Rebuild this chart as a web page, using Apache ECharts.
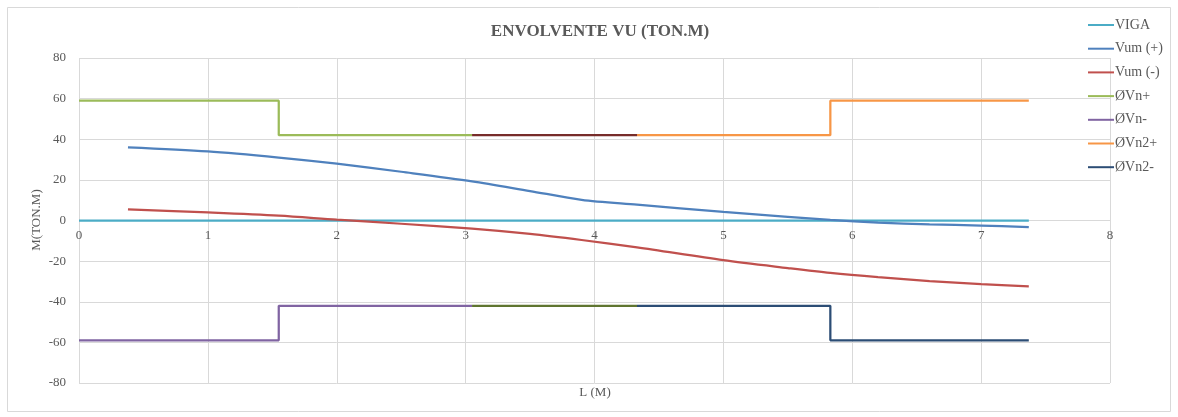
<!DOCTYPE html>
<html>
<head>
<meta charset="utf-8">
<style>
  html, body { margin: 0; padding: 0; background: #ffffff; }
  #chart { width: 1178px; height: 417px; }
</style>
<script src="https://cdn.jsdelivr.net/npm/echarts@6/dist/echarts.min.js"></script>
</head>
<body>
<div id="chart"></div>
<script>
// Shear envelope along the beam: L (m) vs Vu (ton.m)
const legendNames = ['VIGA', 'Vum (+)', 'Vum (-)', 'ØVn+', 'ØVn-', 'ØVn2+', 'ØVn2-'];
const xTicks = { min: 0, max: 8, interval: 1 };
const yTicks = { min: -80, max: 80, interval: 20 };

// beam reference line
const viga = [[0, 0], [7.37, 0]];

// factored shear, positive and negative envelopes
const vumPos = [[0.38, 36], [1.0, 34], [1.55, 31], [2.0, 28], [2.5, 24], [3.05, 19.3],
  [3.5, 14.5], [3.9, 10.2], [4.33, 7.8], [5.0, 4.2], [5.5, 1.8], [5.83, 0.3],
  [6.2, -1.0], [6.6, -1.9], [7.0, -2.5], [7.37, -3.3]];
const vumNeg = [[0.38, 5.5], [1.0, 4.0], [1.55, 2.4], [2.0, 0.4], [2.5, -1.6], [3.05, -4.0],
  [3.5, -6.6], [3.9, -9.6], [4.33, -13.2], [5.0, -19.5], [5.5, -23.4], [5.83, -25.8],
  [6.2, -27.9], [6.6, -29.8], [7.0, -31.3], [7.37, -32.4]];

// design shear capacity, by stirrup zone
const phiVnPos = [[0, 59], [1.55, 59], [1.55, 42], [3.05, 42]];
const phiVnPosMid = [[3.05, 42], [4.33, 42]];
const phiVn2Pos = [[4.33, 42], [5.83, 42], [5.83, 59], [7.37, 59]];
const phiVnNeg = [[0, -59], [1.55, -59], [1.55, -42], [3.05, -42]];
const phiVnNegMid = [[3.05, -42], [4.33, -42]];
const phiVn2Neg = [[4.33, -42], [5.83, -42], [5.83, -59], [7.37, -59]];

const textGray = '#595959';
const serif = '"Liberation Serif", "Times New Roman", serif';

// plot area box
const gridBox = { left: 79, right: 68, top: 58, bottom: 34 };
const chartH = 417;
// the x axis crosses the vertical axis at zero
const plotH = chartH - gridBox.top - gridBox.bottom;
const zeroFromBottom = plotH * (0 - yTicks.min) / (yTicks.max - yTicks.min);

function line(name, data, color, smooth) {
  return {
    name: name, type: 'line', data: data, smooth: smooth ? 0.3 : false,
    symbol: 'none', lineStyle: { color: color, width: 2.25 }, itemStyle: { color: color },
    emphasis: { disabled: true }, animation: false
  };
}

const chart = echarts.init(document.getElementById('chart'), null, { renderer: 'canvas' });
chart.setOption({
  backgroundColor: '#ffffff',
  animation: false,
  title: {
    text: 'ENVOLVENTE VU (TON.M)',
    left: 595, top: 18, textAlign: 'center',
    textStyle: { fontFamily: serif, fontSize: 17, fontWeight: 'bold', color: textGray }
  },
  legend: {
    data: legendNames,
    orient: 'vertical', left: 1083, top: 13,
    icon: 'rect', itemWidth: 26, itemHeight: 2, itemGap: 9.7,
    textStyle: { fontFamily: serif, fontSize: 14, color: textGray, padding: [0, 0, 0, -4] }
  },
  grid: Object.assign({ containLabel: false }, gridBox),
  xAxis: {
    type: 'value', min: xTicks.min, max: xTicks.max, interval: xTicks.interval,
    position: 'bottom', offset: -zeroFromBottom,
    axisLine: { show: false, onZero: false },
    axisTick: { show: false },
    axisLabel: { fontFamily: serif, fontSize: 13, color: textGray, margin: 9 },
    splitLine: { show: true, lineStyle: { color: '#d9d9d9', width: 1 } }
  },
  yAxis: {
    type: 'value', min: yTicks.min, max: yTicks.max, interval: yTicks.interval,
    axisLine: { show: false, onZero: false }, axisTick: { show: false },
    axisLabel: { fontFamily: serif, fontSize: 13, color: textGray, margin: 13 },
    splitLine: { show: true, lineStyle: { color: '#d9d9d9', width: 1 } }
  },
  graphic: [
    { type: 'rect', shape: { x: 7.5, y: 7.5, width: 1163, height: 404 },
      style: { fill: 'none', stroke: '#d9d9d9', lineWidth: 1 }, silent: true },
    { type: 'text', x: 37, y: 220, rotation: Math.PI / 2,
      style: { text: 'M(TON.M)', fill: textGray, font: '13px ' + serif,
        textAlign: 'center', textVerticalAlign: 'middle' } },
    { type: 'text', x: 595, y: 393,
      style: { text: 'L (M)', fill: textGray, font: '13px ' + serif,
        textAlign: 'center', textVerticalAlign: 'middle' } }
  ],
  series: [
    line('VIGA', viga, '#4bacc6'),
    line('Vum (+)', vumPos, '#4f81bd', true),
    line('Vum (-)', vumNeg, '#c0504d', true),
    line('ØVn+', phiVnPos, '#9bbb59'),
    line('ØVn-', phiVnNeg, '#8064a2'),
    line('ØVn2+', phiVn2Pos, '#f79646'),
    line('ØVn2-', phiVn2Neg, '#2c4d75'),
    line('ØVn+ (medio)', phiVnPosMid, '#772c2a'),
    line('ØVn- (medio)', phiVnNegMid, '#5f7530')
  ]
});
</script>
</body>
</html>
